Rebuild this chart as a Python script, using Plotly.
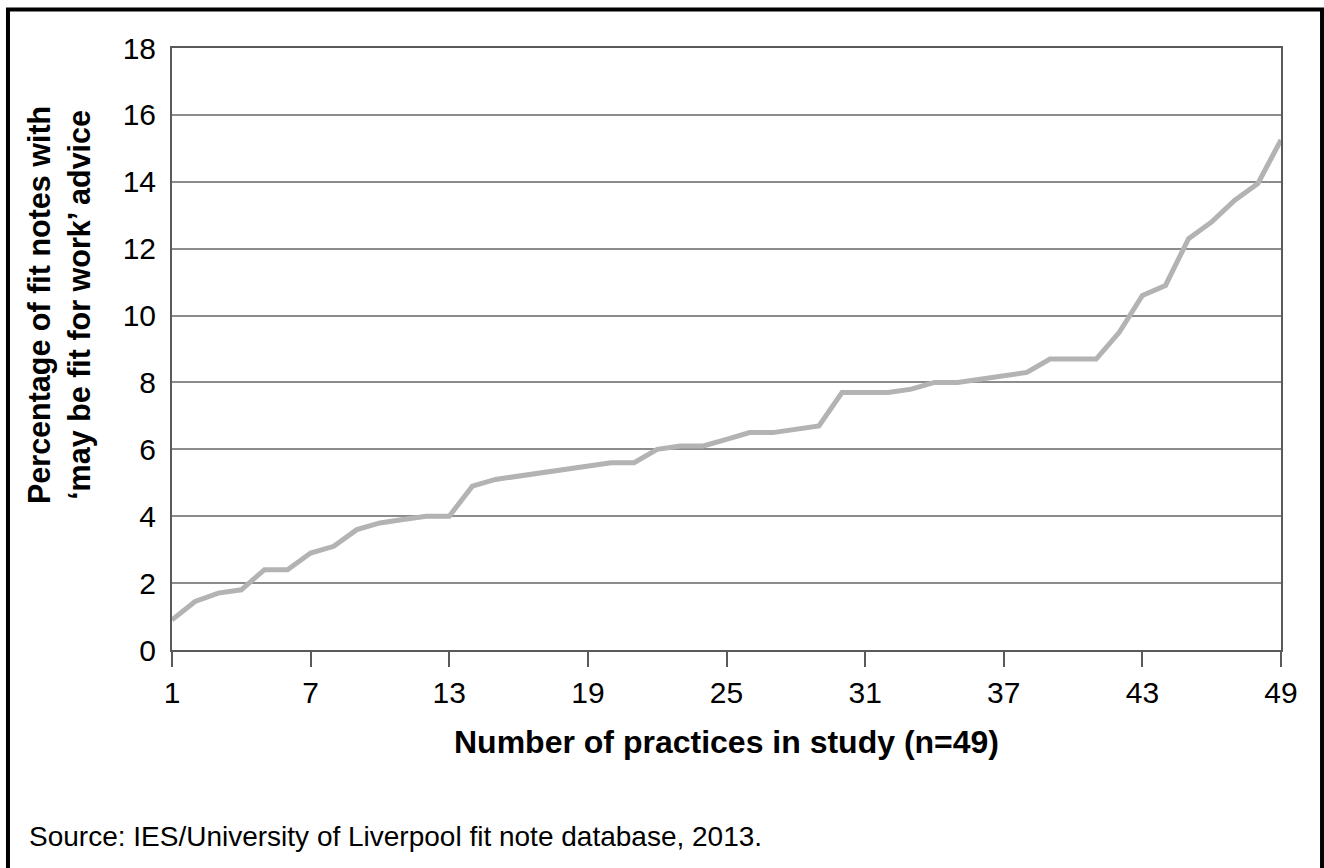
import plotly.graph_objects as go

# Practices ranked by share of fit notes with 'may be fit for work' advice
practice = list(range(1, 50))
pct_may_be_fit = [
    0.9, 1.45, 1.7, 1.8, 2.4, 2.4, 2.9, 3.1, 3.6, 3.8,
    3.9, 4.0, 4.0, 4.9, 5.1, 5.2, 5.3, 5.4, 5.5, 5.6,
    5.6, 6.0, 6.1, 6.1, 6.3, 6.5, 6.5, 6.6, 6.7, 7.7,
    7.7, 7.7, 7.8, 8.0, 8.0, 8.1, 8.2, 8.3, 8.7, 8.7,
    8.7, 9.5, 10.6, 10.9, 12.3, 12.8, 13.45, 13.95, 15.25,
]
x_ticks = [1, 7, 13, 19, 25, 31, 37, 43, 49]
y_ticks = list(range(0, 19, 2))

FONT = "Liberation Sans, Arial, sans-serif"

fig = go.Figure()
fig.add_trace(go.Scatter(
    x=practice, y=pct_may_be_fit, mode="lines",
    line=dict(color="#b3b3b3", width=5),
    hoverinfo="x+y", showlegend=False,
))

fig.update_layout(
    width=1324, height=868,
    margin=dict(l=172, r=43, t=48, b=218),
    paper_bgcolor="white", plot_bgcolor="white",
    font=dict(family=FONT, color="black", size=30),
    xaxis=dict(
        range=[1, 49], tickvals=x_ticks, ticktext=[str(v) for v in x_ticks],
        showgrid=False, zeroline=False,
        showline=True, linecolor="#5a5a5a", linewidth=2, mirror=True,
        ticks="outside", ticklen=15, tickwidth=2, tickcolor="#5a5a5a",
        tickfont=dict(size=30, family=FONT, color="black"),
    ),
    yaxis=dict(
        range=[0, 18], tickvals=y_ticks,
        showgrid=True, gridcolor="#8c8c8c", gridwidth=1.5, zeroline=False,
        showline=True, linecolor="#5a5a5a", linewidth=2, mirror=True,
        ticks="", ticklabelstandoff=8,
        tickfont=dict(size=30, family=FONT, color="black"),
    ),
    annotations=[
        dict(text="<b>Number of practices in study (n=49)</b>",
             xref="paper", yref="paper", x=0.5, y=-0.153,
             xanchor="center", yanchor="middle", showarrow=False,
             font=dict(size=32, family=FONT, color="black")),
        dict(text="<b>Percentage of fit notes with<br>‘may be fit for work’ advice</b>",
             xref="paper", yref="paper", x=-0.1019, y=0.573,
             xanchor="center", yanchor="middle", textangle=-90, showarrow=False,
             font=dict(size=30.5, family=FONT, color="black")),
        dict(text="Source: IES/University of Liverpool fit note database, 2013.",
             xref="paper", yref="paper", x=-0.1307, y=-0.3106,
             xanchor="left", yanchor="middle", showarrow=False,
             font=dict(size=28, family=FONT, color="black")),
    ],
    shapes=[
        dict(type="rect", xref="paper", yref="paper",
             x0=-0.1479, x1=1.0370, y0=-0.40, y1=1.064,
             line=dict(color="black", width=4), fillcolor="rgba(0,0,0,0)",
             layer="above"),
    ],
)

fig.write_html("out.html")
